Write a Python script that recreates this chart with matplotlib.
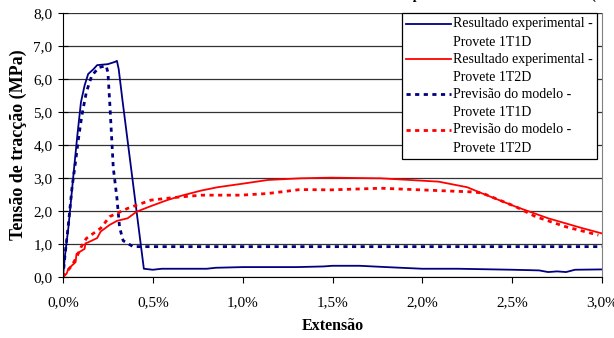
import matplotlib
matplotlib.use('Agg')
from matplotlib import pyplot as plt
from matplotlib.legend_handler import HandlerLine2D

# Resultado experimental - Provete 1T1D
exp_1t1d_x = [0, 0.01, 0.03, 0.06, 0.08, 0.10, 0.12, 0.14, 0.17, 0.19, 0.25, 0.29, 0.30,
              0.31, 0.33, 0.45, 0.50, 0.55, 0.80, 0.85, 1.00, 1.30, 1.45, 1.50, 1.65, 1.80,
              2.00, 2.20, 2.50, 2.65, 2.70, 2.75, 2.80, 2.85, 3.00]
exp_1t1d_y = [0, 0.6, 1.5, 3.2, 4.3, 5.3, 5.8, 6.15, 6.3, 6.42, 6.45, 6.52, 6.55,
              6.3, 5.4, 0.25, 0.22, 0.25, 0.25, 0.28, 0.30, 0.30, 0.32, 0.34, 0.34, 0.30,
              0.25, 0.25, 0.22, 0.20, 0.15, 0.17, 0.15, 0.22, 0.23]

# Resultado experimental - Provete 1T2D
exp_1t2d_x = [0, 0.02, 0.03, 0.05, 0.06, 0.07, 0.075, 0.09, 0.11, 0.12, 0.125, 0.14, 0.19,
              0.21, 0.26, 0.30, 0.36, 0.41, 0.49, 0.58, 0.67, 0.77, 0.86, 0.99, 1.14, 1.32,
              1.49, 1.77, 2.09, 2.25, 2.33, 2.52, 2.70, 2.89, 3.00]
exp_1t2d_y = [0, 0.1, 0.25, 0.35, 0.4, 0.45, 0.7, 0.75, 0.82, 0.85, 1.02, 1.05, 1.18,
              1.38, 1.58, 1.7, 1.78, 1.98, 2.15, 2.33, 2.48, 2.62, 2.72, 2.82, 2.94, 2.99,
              3.01, 2.99, 2.89, 2.72, 2.54, 2.13, 1.78, 1.48, 1.32]

# Previsão do modelo - Provete 1T1D
mod_1t1d_x = [0, 0.01, 0.03, 0.05, 0.07, 0.085, 0.105, 0.13, 0.16, 0.20, 0.24, 0.25, 0.26,
              0.28, 0.30, 0.315, 0.335, 0.39, 3.00]
mod_1t1d_y = [0, 0.6, 1.6, 2.7, 3.5, 4.15, 4.9, 5.6, 6.1, 6.35, 6.4, 6.2, 5.3,
              3.3, 2.4, 1.5, 1.1, 0.92, 0.92]

# Previsão do modelo - Provete 1T2D
mod_1t2d_x = [0, 0.02, 0.05, 0.08, 0.10, 0.13, 0.21, 0.26, 0.36, 0.49, 0.62, 0.77, 0.99,
              1.14, 1.32, 1.49, 1.77, 1.99, 2.27, 2.33, 2.52, 2.63, 2.80, 2.98]
mod_1t2d_y = [0, 0.15, 0.35, 0.65, 0.9, 1.17, 1.48, 1.83, 2.08, 2.33, 2.41, 2.48, 2.48,
              2.53, 2.65, 2.64, 2.69, 2.64, 2.58, 2.55, 2.13, 1.83, 1.52, 1.27]

y_ticks = [0, 1, 2, 3, 4, 5, 6, 7, 8]
x_ticks = [0, 0.5, 1.0, 1.5, 2.0, 2.5, 3.0]


class HandlerFirstLine(HandlerLine2D):
    """Linha da legenda alinhada com a primeira linha do texto (como no Excel)"""

    def create_artists(self, legend, orig_handle, xdescent, ydescent, width, height,
                       fontsize, trans):
        shift = 0.68 * fontsize
        return super().create_artists(legend, orig_handle, xdescent, ydescent - 2 * shift,
                                      width, height, fontsize, trans)


plt.rcParams['font.family'] = 'Liberation Serif'
plt.rcParams['font.size'] = 11

fig = plt.figure(figsize=(6.14, 3.38), dpi=100)
ax = fig.add_axes([63 / 614, 1 - 277 / 338, 539 / 614, 264 / 338])

navy = '#000080'
red = '#FF0000'
ax.plot(exp_1t1d_x, exp_1t1d_y, color=navy, lw=1.3,
        label='Resultado experimental -\nProvete 1T1D')
ax.plot(exp_1t2d_x, exp_1t2d_y, color=red, lw=1.3,
        label='Resultado experimental -\nProvete 1T2D')
ax.plot(mod_1t1d_x, mod_1t1d_y, color=navy, lw=2.0, dashes=(1.5, 1.6),
        label='Previsão do modelo -\nProvete 1T1D')
ax.plot(mod_1t2d_x, mod_1t2d_y, color=red, lw=2.0, dashes=(1.5, 1.6),
        label='Previsão do modelo -\nProvete 1T2D')

ax.set_xlim(0, 3.0)
ax.set_ylim(0, 8)
ax.set_yticks(y_ticks)
ax.set_yticklabels([f'{v:.1f}'.replace('.', ',') for v in y_ticks])
ax.set_xticks(x_ticks)
ax.set_xticklabels([f'{v:.1f}%'.replace('.', ',') for v in x_ticks])
ax.tick_params(axis='x', direction='out', length=4, pad=10, colors='black', labelsize=11)
ax.tick_params(axis='y', direction='inout', length=7, pad=4, colors='black', labelsize=11)
ax.yaxis.grid(True, color='#333333', lw=0.9)
ax.set_axisbelow(True)

ax.spines['top'].set_visible(False)
ax.spines['right'].set_color('#808080')
ax.spines['left'].set_color('black')
ax.spines['bottom'].set_color('black')

ax.set_xlabel('Extensão', fontweight='bold', fontsize=11.5, labelpad=6)
ax.set_ylabel('Tensão de tracção (MPa)', fontweight='bold', fontsize=13, labelpad=5)

leg = ax.legend(loc='upper left', bbox_to_anchor=(0.629, 1.0), borderaxespad=0,
                fontsize=10, handlelength=3.2, handletextpad=0.15, labelspacing=0.28,
                fancybox=False, framealpha=1, edgecolor='black', borderpad=0.3,
                handler_map={matplotlib.lines.Line2D: HandlerFirstLine()})
leg.get_frame().set_linewidth(0.9)
for t in leg.get_texts():
    t.set_linespacing(1.55)

# titulo cortado no topo da imagem
fig.text(596 / 614, 1 + 1 / 338, 'Resultados obtidos e previsão do modelo numérico (',
         ha='right', va='baseline', fontweight='bold', fontsize=10)

fig.savefig('out.png', dpi=100)
